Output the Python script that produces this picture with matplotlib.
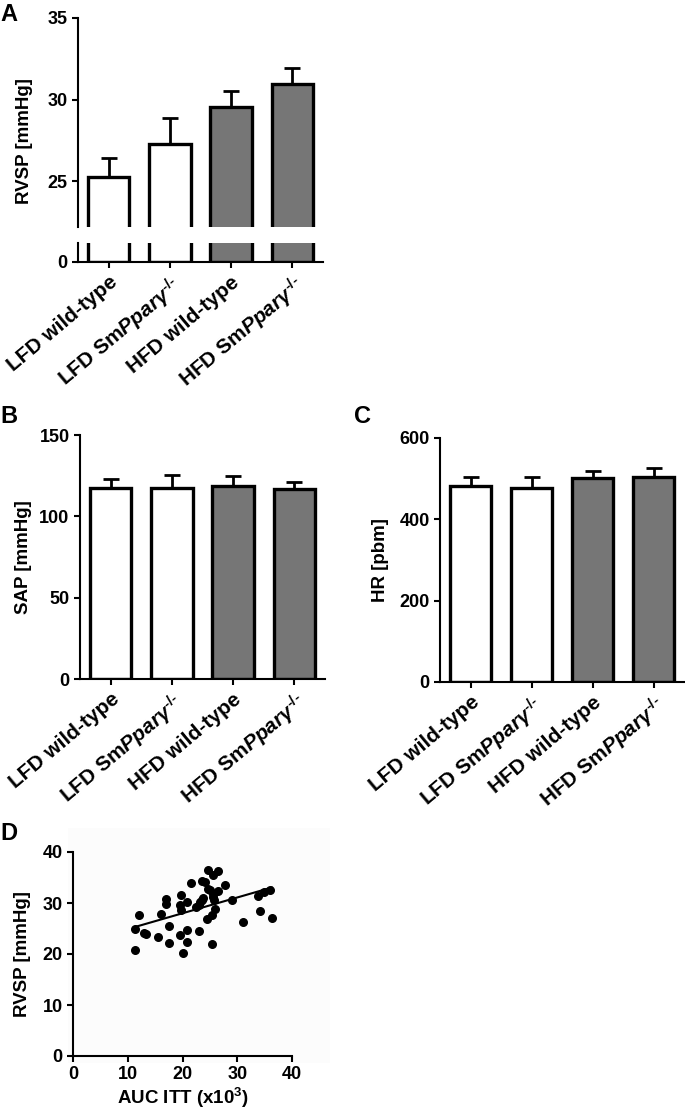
import numpy as np
import matplotlib
matplotlib.use("Agg")
import matplotlib.pyplot as plt

plt.rcParams['font.family'] = ['Liberation Sans', 'DejaVu Sans']
plt.rcParams['font.weight'] = 'bold'
plt.rcParams['axes.labelweight'] = 'bold'
plt.rcParams['mathtext.fontset'] = 'custom'
plt.rcParams['mathtext.rm'] = 'Liberation Sans:bold'
plt.rcParams['mathtext.it'] = 'Liberation Sans:italic:bold'
plt.rcParams['mathtext.bf'] = 'Liberation Sans:bold'

# Datos
grupos = ['LFD wild-type', 'LFD Sm$\\mathit{Pparγ}^{\\text{-/-}}$',
          'HFD wild-type', 'HFD Sm$\\mathit{Pparγ}^{\\text{-/-}}$']
colores = ['white', 'white', '#767676', '#767676']

rvsp_media = [25.25, 27.3, 29.55, 30.95]
rvsp_err = [1.2, 1.55, 0.95, 1.0]

sap_media = [117.4, 117.4, 118.6, 116.8]
sap_err = [5.6, 8.0, 6.2, 4.2]

hr_media = [482, 477, 501, 504]
hr_err = [22, 26, 18, 22]

auc_itt = [11.3, 11.3, 12.1, 13.0, 13.4, 15.5, 16.0, 16.9, 17.0, 17.5,
           17.6, 19.7, 19.6, 19.7, 19.6, 20.0, 20.8, 20.8, 20.9, 21.6,
           22.4, 23.0, 23.1, 23.2, 23.5, 23.6, 23.8, 24.2, 24.4, 24.6,
           24.7, 25.1, 25.3, 25.3, 25.5, 25.5, 25.6, 25.7, 26.0, 26.4,
           26.5, 27.7, 29.0, 31.0, 33.8, 34.2, 34.9, 35.9, 36.3]
rvsp_ind = [25.0, 20.7, 27.6, 24.2, 24.0, 23.4, 27.9, 30.7, 29.9, 25.4,
            22.2, 31.5, 29.7, 28.6, 23.7, 20.1, 24.7, 22.4, 30.2, 34.0,
            29.2, 29.7, 24.5, 30.2, 34.4, 30.5, 30.9, 34.1, 26.9, 36.5,
            32.8, 32.5, 22.0, 27.6, 35.4, 31.8, 31.2, 30.5, 28.9, 36.3,
            32.3, 33.5, 30.5, 26.3, 31.4, 28.4, 32.2, 32.6, 27.1]

W, H = 685, 1109
fig = plt.figure(figsize=(W / 100, H / 100), dpi=100)


def caja(x0, y0, x1, y1):
    # convierte píxeles (arriba-izquierda) a coordenadas de figura
    return [x0 / W, 1 - y1 / H, (x1 - x0) / W, (y1 - y0) / H]


def estilo(ax):
    for s in ['top', 'right']:
        ax.spines[s].set_visible(False)
    for s in ['left', 'bottom']:
        ax.spines[s].set_linewidth(1.5)
    ax.tick_params(width=1.5, length=4, labelsize=13, direction='out')


def negrita(ax):
    for t in ax.get_xticklabels() + ax.get_yticklabels():
        t.set_fontweight('bold')


def barras(ax, medias, errores=None):
    x = np.arange(len(medias))
    ax.bar(x, medias, width=0.68, color=colores, edgecolor='black',
           linewidth=2.4, zorder=2)
    if errores is not None:
        ax.errorbar(x, medias, yerr=[np.zeros(len(errores)), errores],
                    fmt='none', ecolor='black', elinewidth=2, capsize=6,
                    capthick=2, zorder=1)
    ax.set_xlim(-0.5, len(medias) - 0.5)


def etiquetas_x(ax):
    ax.set_xticks(np.arange(len(grupos)))
    ax.set_xticklabels(grupos, rotation=40, ha='right',
                       rotation_mode='anchor', fontsize=15,
                       fontweight='bold')


# Panel A con eje cortado
axA = fig.add_axes(caja(78, 18, 323, 227))
axA0 = fig.add_axes(caja(78, 243, 323, 262))
for ax in (axA, axA0):
    estilo(ax)
    barras(ax, rvsp_media, rvsp_err if ax is axA else None)
axA.set_ylim(22.2, 35)
axA.set_yticks([25, 30, 35])
axA.spines['bottom'].set_visible(False)
axA.set_xticks([])
axA.set_ylabel('RVSP [mmHg]', fontsize=13.5)
axA.yaxis.set_label_coords(-0.185, 0.41)
axA0.set_ylim(0, 1)
axA0.set_yticks([0])
etiquetas_x(axA0)
negrita(axA)
negrita(axA0)

# Panel B
axB = fig.add_axes(caja(80, 435, 325, 679))
estilo(axB)
barras(axB, sap_media, sap_err)
axB.set_ylim(0, 150)
axB.set_yticks([0, 50, 100, 150])
axB.set_ylabel('SAP [mmHg]', fontsize=13.5)
axB.yaxis.set_label_coords(-0.195, 0.5)
etiquetas_x(axB)
negrita(axB)

# Panel C
axC = fig.add_axes(caja(440, 438, 684, 682))
estilo(axC)
barras(axC, hr_media, hr_err)
axC.set_ylim(0, 600)
axC.set_yticks([0, 200, 400, 600])
axC.set_ylabel('HR [pbm]', fontsize=13.5)
axC.yaxis.set_label_coords(-0.21, 0.5)
etiquetas_x(axC)
negrita(axC)

# Panel D: correlación
axD = fig.add_axes(caja(73, 852, 292, 1056))
axD.patch.set_alpha(0)
estilo(axD)
axD.scatter(auc_itt, rvsp_ind, s=30, color='black', zorder=3)
m, b = np.polyfit(auc_itt, rvsp_ind, 1)
xl = np.array([min(auc_itt), max(auc_itt)])
axD.plot(xl, m * xl + b, color='black', linewidth=1.5)
axD.set_xlim(0, 40)
axD.set_ylim(0, 40)
axD.set_xticks([0, 10, 20, 30, 40])
axD.set_yticks([0, 10, 20, 30, 40])
axD.set_xlabel('AUC ITT (x10$^{3}$)', fontsize=13.5, labelpad=2)
axD.set_ylabel('RVSP [mmHg]', fontsize=13.5)
axD.yaxis.set_label_coords(-0.19, 0.5)
negrita(axD)

# fondo muy claro del panel D
fig.patches.append(plt.Rectangle((68 / W, 1 - 1063 / H), 262 / W, 235 / H,
                                 transform=fig.transFigure,
                                 facecolor='#fcfcfc', edgecolor='none',
                                 zorder=-1))

# letras de panel
for letra, (px, py) in {'A': (0, 3), 'B': (0, 405), 'C': (354, 405),
                        'D': (0, 822)}.items():
    fig.text(px / W, 1 - py / H, letra, fontsize=17, fontweight='bold',
             va='top', ha='left')

fig.savefig('out.png', dpi=100)
